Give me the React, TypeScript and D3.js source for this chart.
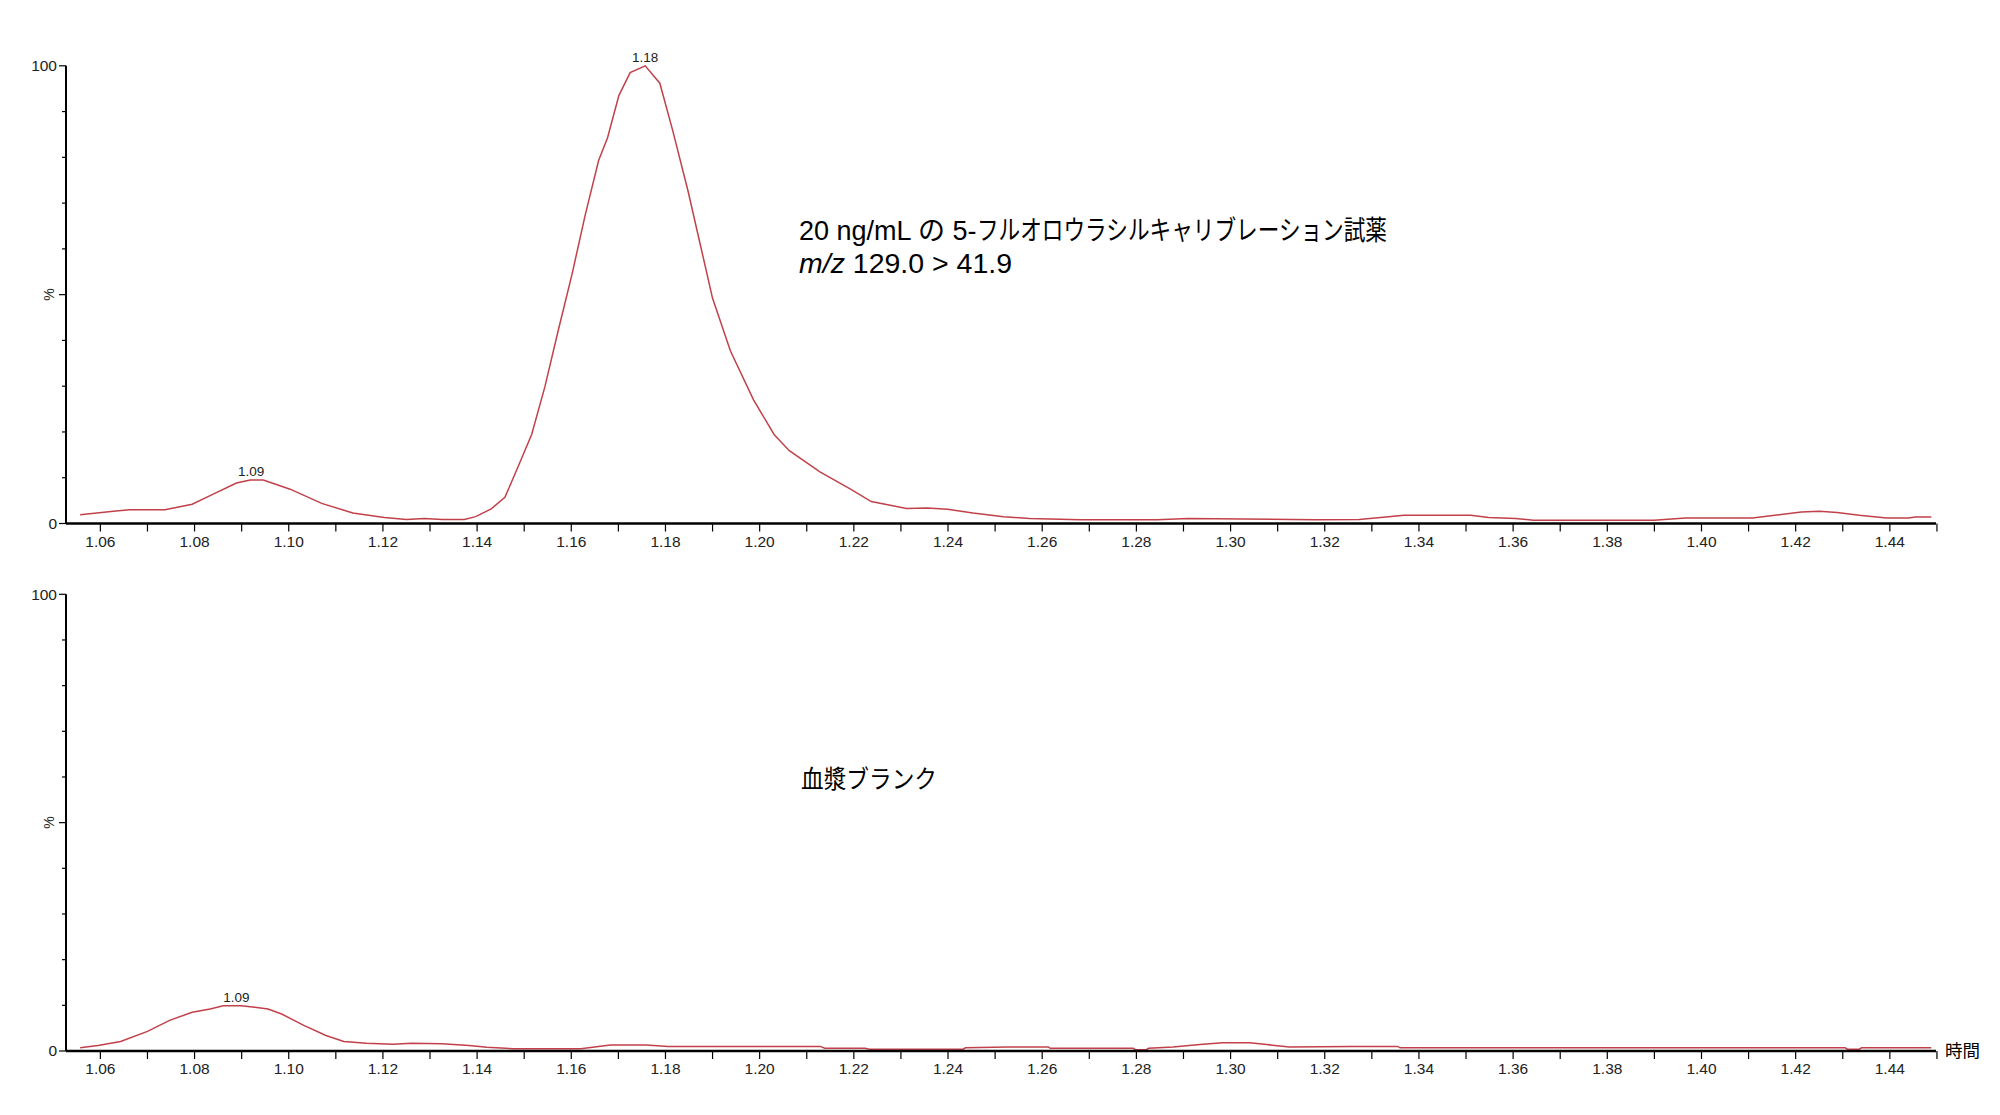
import * as d3 from "d3";

// retention time (min) and relative intensity (%)
const stdTime = [
  1.0557, 1.0633, 1.0662, 1.0737, 1.0795, 1.0833, 1.0889, 1.0918, 1.0946, 1.1003,
  1.107, 1.1136, 1.1203, 1.125, 1.1288, 1.1326, 1.1373, 1.1397, 1.143, 1.1459,
  1.1487, 1.1516, 1.1544, 1.1573, 1.1601, 1.163, 1.1658, 1.1677, 1.1701, 1.1725,
  1.1757, 1.1788, 1.1815, 1.1848, 1.1874, 1.19, 1.1938, 1.1987, 1.2031, 1.2063,
  1.2128, 1.2193, 1.2237, 1.2312, 1.2356, 1.2399, 1.2453, 1.2518, 1.2573, 1.2681,
  1.2844, 1.2909, 1.3028, 1.318, 1.3273, 1.333, 1.3368, 1.351, 1.3548, 1.3605,
  1.3643, 1.3899, 1.3966, 1.4108, 1.4165, 1.4212, 1.425, 1.4288, 1.4335, 1.4393,
  1.444, 1.4454, 1.4488,
];
const stdIntensity = [
  1.9, 2.75, 3.0, 3.0, 4.2, 6.1, 8.85, 9.5, 9.5, 7.5,
  4.4, 2.3, 1.3, 0.9, 1.1, 0.9, 0.9, 1.5, 3.2, 5.7,
  12.4, 19.5, 29.9, 42.5, 54.2, 67.6, 79.3, 84.3, 93.5, 98.5,
  100, 96.2, 86, 72.6, 60.9, 49.2, 37.7, 27.0, 19.4, 15.9,
  11.3, 7.5, 4.8, 3.3, 3.4, 3.1, 2.3, 1.5, 1.1, 0.8,
  0.8, 1.1, 1.0, 0.8, 0.9, 1.4, 1.8, 1.8, 1.3, 1.1,
  0.7, 0.7, 1.2, 1.2, 1.9, 2.5, 2.7, 2.4, 1.8, 1.2,
  1.2, 1.4, 1.4,
];

const blankTime = [
  1.0557, 1.0595, 1.0643, 1.07, 1.0747, 1.0795, 1.0833, 1.0861, 1.0899, 1.0928,
  1.0956, 1.0985, 1.1032, 1.1079, 1.1117, 1.1165, 1.1222, 1.126, 1.1326, 1.1383,
  1.1421, 1.1478, 1.162, 1.1683, 1.1759, 1.1806, 1.2129, 1.2138, 1.2224, 1.2233,
  1.2432, 1.2437, 1.2527, 1.2613, 1.2617, 1.2793, 1.2798, 1.2821, 1.2826, 1.2878,
  1.2935, 1.2983, 1.304, 1.3077, 1.3125, 1.3256, 1.3355, 1.336, 1.4305, 1.431,
  1.4335, 1.434, 1.4488,
];
const blankIntensity = [
  0.7, 1.2, 2.1, 4.3, 6.7, 8.5, 9.2, 9.9, 9.9, 9.6,
  9.2, 8.1, 5.6, 3.4, 2.1, 1.7, 1.5, 1.7, 1.6, 1.2,
  0.8, 0.5, 0.5, 1.3, 1.3, 1.0, 1.0, 0.6, 0.6, 0.4,
  0.4, 0.7, 0.9, 0.9, 0.6, 0.6, 0.3, 0.3, 0.6, 0.9,
  1.4, 1.8, 1.8, 1.4, 0.9, 1.0, 1.0, 0.7, 0.7, 0.4,
  0.4, 0.7, 0.7,
];

// peak apex labels
const stdPeaks = [
  { t: 1.092, v: 9.5, label: "1.09" },
  { t: 1.1757, v: 100, label: "1.18" },
];
const blankPeaks = [{ t: 1.0889, v: 9.9, label: "1.09" }];

const xTicks = d3.range(106, 146).map((d) => d / 100);
const yTicks = d3.range(0, 101, 10);

const W = 2000;
const H = 1115;
const LINE = "#c2404a";
const NUM_FONT = "'Liberation Sans', Arial, sans-serif";
const JP_FONT = "'Liberation Sans', Arial, 'Noto Sans CJK JP', sans-serif";

const x = d3.scaleLinear().domain([1.0527, 1.4498]).range([66, 1936]);

interface PanelProps {
  top: number;
  bottom: number;
  times: number[];
  values: number[];
  peaks: { t: number; v: number; label: string }[];
}

function Panel({ top, bottom, times, values, peaks }: PanelProps) {
  const y = d3.scaleLinear().domain([0, 100]).range([bottom, top]);
  const pts: [number, number][] = times.map((t, i) => [t, values[i]]);
  const line = d3
    .line<[number, number]>()
    .x((d) => x(d[0]))
    .y((d) => y(d[1]))
    .curve(d3.curveLinear);
  const x0 = x.range()[0];
  const x1 = x.range()[1];

  return (
    <g>
      <path d={line(pts) ?? ""} fill="none" stroke={LINE} strokeWidth={1.5} />
      {/* y axis */}
      <line x1={x0} x2={x0} y1={y(100)} y2={bottom} stroke="#000" strokeWidth={2} />
      {yTicks.map((v) => {
        const major = v === 0 || v === 50 || v === 100;
        return (
          <line
            key={v}
            x1={x0 - (major ? 7 : 4)}
            x2={x0}
            y1={y(v)}
            y2={y(v)}
            stroke="#000"
            strokeWidth={1.2}
          />
        );
      })}
      {[0, 100].map((v) => (
        <text
          key={v}
          x={x0 - 9}
          y={y(v)}
          dy="0.35em"
          textAnchor="end"
          fontFamily={NUM_FONT}
          fontSize={15.5}
          fill="#222"
        >
          {v}
        </text>
      ))}
      <text
        transform={`translate(${x0 - 12},${y(50)}) rotate(-90)`}
        textAnchor="middle"
        fontFamily={NUM_FONT}
        fontSize={14}
        fill="#222"
      >
        %
      </text>
      {/* x axis */}
      <line x1={x0} x2={x1} y1={bottom} y2={bottom} stroke="#000" strokeWidth={2.6} />
      {xTicks.map((t) => (
        <line
          key={t}
          x1={x(t)}
          x2={x(t)}
          y1={bottom}
          y2={bottom + 8}
          stroke="#000"
          strokeWidth={1.2}
        />
      ))}
      {xTicks
        .filter((t) => Math.round(t * 100) % 2 === 0 && t < 1.45)
        .map((t) => (
          <text
            key={t}
            x={x(t)}
            y={bottom + 23}
            textAnchor="middle"
            fontFamily={NUM_FONT}
            fontSize={15.5}
            fill="#222"
          >
            {t.toFixed(2)}
          </text>
        ))}
      {peaks.map((p) => (
        <text
          key={p.label + p.t}
          x={x(p.t)}
          y={y(p.v) - 4}
          textAnchor="middle"
          fontFamily={NUM_FONT}
          fontSize={13.5}
          fill="#222"
        >
          {p.label}
        </text>
      ))}
    </g>
  );
}

export default function App() {
  return (
    <div style={{ position: "absolute", left: 0, top: 0, background: "#fff" }}>
      <svg width={W} height={H} viewBox={`0 0 ${W} ${H}`} style={{ display: "block" }}>
        <rect width={W} height={H} fill="#fff" />
        <Panel top={65.8} bottom={523.5} times={stdTime} values={stdIntensity} peaks={stdPeaks} />
        <Panel top={594.3} bottom={1051} times={blankTime} values={blankIntensity} peaks={blankPeaks} />

        {/* latin part at natural width, katakana part condensed as in the original */}
        <text x={799} y={240} fontFamily={JP_FONT} fontSize={27} fill="#000">
          20 ng/mL の 5-
        </text>
        <text
          x={977}
          y={240}
          fontFamily={JP_FONT}
          fontSize={27}
          textLength={410}
          lengthAdjust="spacingAndGlyphs"
          fill="#000"
        >
          フルオロウラシルキャリブレーション試薬
        </text>
        <text
          x={799}
          y={273}
          fontFamily={JP_FONT}
          fontSize={27}
          textLength={213}
          lengthAdjust="spacingAndGlyphs"
          fill="#000"
        >
          <tspan fontStyle="italic">m/z</tspan> 129.0 &gt; 41.9
        </text>
        <text
          x={801}
          y={788}
          fontFamily={JP_FONT}
          fontSize={25}
          textLength={136}
          lengthAdjust="spacingAndGlyphs"
          fill="#000"
        >
          血漿ブランク
        </text>
        <text
          x={1945}
          y={1057}
          fontFamily={JP_FONT}
          fontSize={17}
          textLength={35}
          lengthAdjust="spacingAndGlyphs"
          fill="#000"
        >
          時間
        </text>
      </svg>
    </div>
  );
}
